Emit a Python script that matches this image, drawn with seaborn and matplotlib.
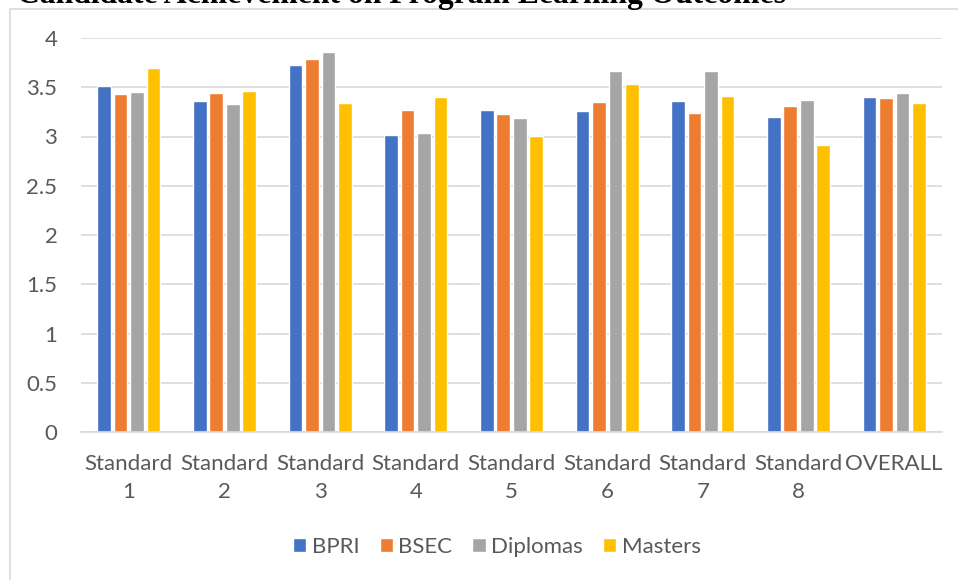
import numpy as np
import pandas as pd
import matplotlib
matplotlib.use('Agg')
import matplotlib.pyplot as plt
import seaborn as sns
from matplotlib.patches import Rectangle

# 数据
categories = ['Standard\n1', 'Standard\n2', 'Standard\n3', 'Standard\n4', 'Standard\n5',
              'Standard\n6', 'Standard\n7', 'Standard\n8', 'OVERALL']
programs = ['BPRI', 'BSEC', 'Diplomas', 'Masters']
bpri = [3.51, 3.36, 3.73, 3.02, 3.27, 3.26, 3.36, 3.20, 3.40]
bsec = [3.43, 3.44, 3.79, 3.27, 3.23, 3.35, 3.24, 3.31, 3.39]
diplomas = [3.45, 3.33, 3.86, 3.04, 3.19, 3.67, 3.67, 3.37, 3.44]
masters = [3.70, 3.46, 3.34, 3.40, 3.01, 3.53, 3.41, 2.91, 3.34]
yticks = [0, 0.5, 1, 1.5, 2, 2.5, 3, 3.5, 4]
ytick_labels = ['0', '0.5', '1', '1.5', '2', '2.5', '3', '3.5', '4']
colors = ['#4472C4', '#ED7D31', '#A5A5A5', '#FFC000']
title = 'Candidate Achievement on Program Learning Outcomes'

rows = []
for prog, vals in zip(programs, [bpri, bsec, diplomas, masters]):
    for cat, v in zip(categories, vals):
        rows.append({'standard': cat, 'program': prog, 'score': v})
df = pd.DataFrame(rows)

sns.set_style('white')
plt.rcParams['font.family'] = ['Lato', 'DejaVu Sans']
text_color = '#595959'
grid_color = '#D9D9D9'

W, H = 958, 580
fig = plt.figure(figsize=(W / 100, H / 100), dpi=100)
ax = fig.add_axes([81 / W, 1 - 432 / H, (942 - 81) / W, (432 - 38) / H])

sns.barplot(data=df, x='standard', y='score', hue='program', order=categories,
            hue_order=programs, palette=colors, saturation=1, width=0.69, gap=0.17,
            errorbar=None, ax=ax)

ax.set_ylim(0, 4)
ax.set_xlim(-0.5, len(categories) - 0.5)
ax.set_yticks(yticks)
ax.set_yticklabels(ytick_labels)
ax.set_xticks(range(len(categories)))
ax.set_xticklabels(categories, linespacing=1.5)
ax.set_xlabel('')
ax.set_ylabel('')
ax.yaxis.grid(True, color=grid_color, linewidth=1.2)
ax.set_axisbelow(True)
for s in ['top', 'right', 'left']:
    ax.spines[s].set_visible(False)
ax.spines['bottom'].set_color(grid_color)
ax.spines['bottom'].set_linewidth(1.2)
ax.tick_params(axis='y', length=0, pad=17, labelsize=16, labelcolor=text_color)
ax.tick_params(axis='x', length=0, pad=16, labelsize=16, labelcolor=text_color)

# 图例移到下方
handles, labels = ax.get_legend_handles_labels()
ax.get_legend().remove()
fig.legend(handles, labels, loc='center', bbox_to_anchor=(497 / W, 1 - 547 / H),
           ncol=4, frameon=False, fontsize=16, labelcolor=text_color,
           handlelength=0.6, handleheight=0.6, handletextpad=0.25, columnspacing=0.9)

# 外框
fig.add_artist(Rectangle((10 / W, -0.1), 1.2, (1 - 9 / H) + 0.1, transform=fig.transFigure,
                         fill=False, edgecolor=grid_color, linewidth=1.2))

# 标题 (上半部分被裁掉)
fig.text(17 / W, 1 - 3.5 / H, title, ha='left', va='baseline', fontsize=22.8,
         fontweight='bold', family=['Liberation Serif', 'DejaVu Serif'], color='black')

fig.savefig('out.png', dpi=100)
